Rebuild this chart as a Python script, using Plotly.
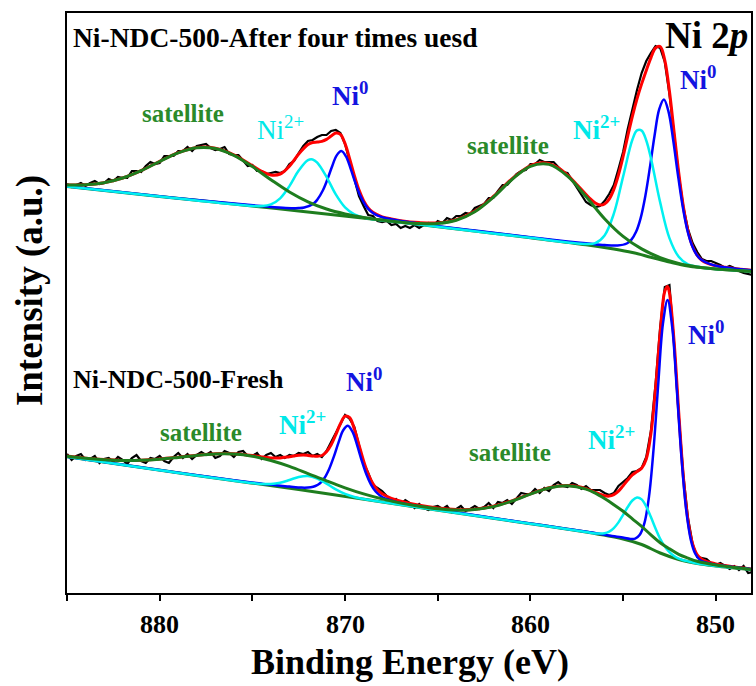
import plotly.graph_objects as go

# ---------------- data (binding energy in eV, intensity in a.u.) ----------------
energy_raw = [885,884.75,884.5,884.25,884,883.75,883.5,883.25,883,882.75,882.5,882.25,882,881.75,881.5,881.25,881,880.75,880.5,880.25,
 880,879.75,879.5,879.25,879,878.75,878.5,878.25,878,877.75,877.5,877.25,877,876.75,876.5,876.25,876,875.75,875.5,875.25,
 875,874.75,874.5,874.25,874,873.75,873.5,873.25,873,872.75,872.5,872.25,872,871.75,871.5,871.25,871,870.75,870.5,870.25,
 870,869.75,869.5,869.25,869,868.75,868.5,868.25,868,867.75,867.5,867.25,867,866.75,866.5,866.25,866,865.75,865.5,865.25,
 865,864.75,864.5,864.25,864,863.75,863.5,863.25,863,862.75,862.5,862.25,862,861.75,861.5,861.25,861,860.75,860.5,860.25,
 860,859.75,859.5,859.25,859,858.75,858.5,858.25,858,857.75,857.5,857.25,857,856.75,856.5,856.25,856,855.75,855.5,855.25,
 855,854.75,854.5,854.25,854,853.75,853.5,853.25,853,852.75,852.5,852.25,852,851.75,851.5,851.25,851,850.75,850.5,850.25,
 850,849.75,849.5,849.25,849,848.75,848.5,848.25,848]

# --- Ni-NDC-500 after four times used (upper spectrum) ---
used_raw = [409,406,408,410,407,410,412,409,410,414, 412,416,415,415,422,422,421,427,431,429,
 430,437,437,437,442,442,446,442,447,448, 449,445,443,444,446,439,438,438,432,427,
 428,422,422,419,420,421,420,422,429,432, 440,447,452,453,456,458,458,462,463,460,
 449,432,414,397,387,378,377,372,371,372, 368,369,365,367,365,368,365,368,370,367,
 372,370,375,373,377,377,380,379,385,387, 389,395,395,402,408,408,414,419,422,423,
 429,429,433,431,431,431,426,421,420,413, 406,398,391,388,386,387,392,399,408,424,
 441,464,485,503,520,532,540,547,545,531, 499,457,418,386,364,350,341,334,332,332,
 330,328,325,327,325,322,320,319,318]

used_env_E = [885,884,883,882,881,880,879,878,877,876,875,874.5,874,873.5,873,872.5,872,871.75,871.5,871.25,871,870.75,870.5,870.25,
 870,869.75,869.5,869.25,869,868.75,868.5,868,867.5,867,866,865,864,863,862,861,860,859.5,859,858.5,858,857.5,857,856.75,856.5,
 856.25,856,855.75,855.5,855.25,855,854.75,854.5,854.25,854,853.75,853.5,853.25,853,852.75,852.5,852.25,852,851.75,851.5,851.25,
 851,850.75,850.5,850.25,850,849.5,849,848.5,848]
used_env = [408.1,408.2,410.3,415.0,422.4,431.7,440.3,445.5,444.8,438.2,427.3,421.7,418.0,419.0,426.9,439.0,448.4,450.5,450.9,451.6,
 453.6,456.9,460.0,458.6,449.4,434.1,417.6,403.1,392.4,385.1,380.7,376.2,374.0,372.3,370.4,370.1,373.4,381.9,396.5,414.1,427.4,
 430.1,429.5,425.2,417.9,408.5,398.5,393.8,390.0,388.0,389.0,393.9,403.6,418.2,436.5,456.9,476.6,494.1,509.1,522.6,535.1,545.0,
 546.5,532.7,501.7,461.1,420.5,386.6,362.0,346.5,337.7,332.8,330.1,328.4,327.2,325.8,324.6,323.5,322.7]

used_bg_E = [885,880,875,872.5,866,860,857,855.5,854.5,853.5,852.5,851.5,850,848]
used_bg = [406.5,396.5,387.0,382.0,368.5,355.2,348.3,344.0,340.5,335.8,331.0,327.0,324.0,321.5]

used_sat_E = [885,884,883,882,881,880,879,878,877,876,875,874,873,872,871,870,869,868,867,866,865,864,863,862,861,860,859,858,857,
 856,855,854,853,852,851,850,849,848]
used_sat = [408.1,408.2,410.3,415.0,422.4,431.5,440.1,445.2,444.5,437.7,426.4,413.3,401.0,391.2,384.0,379.1,375.6,373.0,370.9,369.5,
 369.5,372.7,381.3,395.8,413.4,426.7,428.6,416.9,396.4,374.3,356.6,344.1,335.4,329.6,326.1,324.0,322.8,321.5]

used_ni2_E = [885,880,875,874.5,874,873.5,873,872.5,872,871.75,871.5,871,870.5,870,869.5,869,868.5,868,866,862,860,858,857,856.5,
 856,855.5,855,854.5,854.25,854,853.75,853.5,853,852.5,852,851.5,851,850,849,848]
used_ni2 = [406.5,396.5,387.0,386.9,388.6,394.7,406.9,422.4,432.8,433.5,430.3,416.1,398.6,385.6,378.6,375.4,373.8,372.7,368.5,359.6,
 355.2,350.6,348.9,349.9,357.6,379.3,416.4,453.2,462.6,462.4,452.5,434.9,390.6,354.9,336.3,328.6,326.3,324.0,322.8,321.5]

used_ni0_E = [885,880,876,874.2,873.2,872.5,872.2,871.7,871.5,871.2,870.95,870.7,870.45,870.2,869.95,869.7,869.45,869.2,868.9,868.7,
 868.4,868.2,867.9,867.2,866.2,865.2,863,860,858,857,856,855.3,854.8,854.55,854.3,854.05,853.8,853.55,853.3,853.05,852.8,852.55,
 852.3,852.05,851.8,851.55,851.3,851.05,850.8,850.3,849.8,848.8,848]
used_ni0 = [406.7,396.7,389.4,386.4,385.1,384.9,385.5,389.4,393.2,402.5,413.7,426.5,437.6,441.9,436.6,424.4,410.6,398.3,387.8,383.2,
 378.9,377.2,375.3,372.7,369.9,367.3,362.5,355.7,351.6,349.8,347.9,347.5,349.5,353.4,361.2,375.2,397.1,426.1,457.8,483.8,493.4,
 481.4,453.2,419.3,388.1,364.0,348.2,338.8,333.5,328.8,326.6,324.1,322.7]

# --- Ni-NDC-500 fresh (lower spectrum) ---
fresh_raw = [139,133,137,139,133,134,137,130,134,135, 131,136,133,129,135,138,132,130,135,134,
 137,132,130,136,140,135,139,134,138,141, 138,141,135,137,142,140,136,141,142,137,
 137,140,134,138,140,136,138,135,138,137, 140,139,141,137,139,136,142,151,160,169,
 178,174,166,148,130,120,108,105,102,97, 93,94,89,93,90,85,89,85,83,86,
 87,84,87,81,84,87,82,84,87,84, 86,90,85,91,90,93,89,95,100,99,
 99,104,100,105,102,108,111,107,106,110, 108,104,107,103,103,103,100,98,100,107,
 111,115,121,122,125,136,162,209,266,306, 308,250,178,118,75,49,36,35,34,30,
 28,30,27,24,27,23,27,20,21]

fresh_env_E = [885,884,883,882,881,880,879,878,877,876,875,874.5,874,873.5,873,872.5,872.25,872,871.75,871.5,871.25,871,870.75,870.5,
 870.25,870,869.75,869.5,869.25,869,868.75,868.5,868.25,868,867.5,867,866,865,864,863,862,861,860,859,858.5,858,857.5,857,856.75,
 856.5,856.25,856,855.75,855.5,855.25,855,854.75,854.5,854.25,854,853.75,853.5,853.25,853,852.75,852.6,852.5,852.25,852,851.75,
 851.5,851.25,851,850.75,850.5,850.25,850,849.5,849,848.5,848]
fresh_env = [136.9,134.8,133.4,132.6,132.8,134.0,135.8,137.8,139.3,139.3,137.5,136.1,135.1,135.1,136.3,137.7,138.0,137.6,137.0,136.7,
 137.5,141.2,148.2,158.3,169.3,176.8,175.3,164.1,148.2,132.1,118.9,109.4,103.1,99.2,94.6,91.7,87.7,84.9,83.4,83.8,86.8,92.2,99.1,
 105.3,107.1,107.6,106.7,104.4,102.6,100.7,98.8,97.3,96.9,98.4,101.9,107.3,113.0,118.1,121.4,124.8,134.1,159.2,204.5,260.5,301.8,
 306.4,300.0,251.7,180.9,116.5,72.6,49.0,38.1,33.8,31.6,30.2,29.1,27.5,26.1,24.9,23.8]

fresh_bg_E = [885,878,872.5,866,860.1,857,855,854,853,852,851,850,848]
fresh_bg = [136.2,117.5,103.5,85.5,69.5,61.0,54.0,48.5,40.0,33.5,29.5,27.0,23.3]

fresh_sat_E = [885,884,883,882,881,880,879,878,877,876,875,874,873,872,871,870,869,868,867,866,865,864,863,862,861,860,859,858,857,
 856.5,856,855.5,855,854.5,854,853.5,853,852.5,852,851.5,851,850,849,848]
fresh_sat = [136.8,134.7,133.3,132.5,132.7,133.8,135.6,137.6,139.0,138.9,136.8,132.5,126.6,119.4,112.1,105.2,99.1,94.1,89.9,86.7,
 84.2,82.9,83.4,86.4,91.9,98.8,105.0,107.2,103.9,99.8,94.4,88.3,81.7,74.1,66.6,58.2,50.3,44.2,38.6,34.9,31.7,27.9,25.4,23.4]

fresh_ni2_E = [885,880,875,874.5,874,873.5,873,872.5,872,871.5,871,870.5,870,869.5,869,868,866,860.1,857,856.5,856,855.75,855.5,
 855.25,855,854.75,854.5,854.25,854,853.75,853.5,853.25,853,852.75,852.5,852.25,852,851.75,851.5,851,850,849,848]
fresh_ni2 = [136.2,122.8,109.9,109.1,109.0,110.3,113.0,116.0,117.0,114.5,109.4,103.6,99.1,96.0,94.0,91.0,85.5,69.5,61.0,59.6,59.7,
 61.3,64.9,70.6,78.2,86.0,92.5,95.5,93.6,86.3,75.9,64.5,54.2,46.5,40.9,37.0,34.3,32.8,31.6,29.5,27.0,25.2,23.3]

fresh_ni0_E = [885,880,876,874,873,872.35,871.85,871.6,871.35,871.1,870.85,870.6,870.35,870.1,869.85,869.6,869.35,869.1,868.85,
 868.6,868.35,868.1,867.85,867.35,866.85,865.85,864.85,862,860,858,856.6,855.6,855.1,854.6,854.35,854.1,853.85,853.6,853.35,
 853.1,852.85,852.6,852.35,852.1,851.85,851.6,851.35,851.1,850.85,850.6,850.1,849.6,848.6,848]
fresh_ni0 = [136.3,123.0,112.8,108.2,106.4,105.4,105.7,107.0,109.8,115.3,124.3,136.6,150.7,162.7,167.2,161.3,147.9,132.4,118.7,
 108.4,101.5,97.3,94.6,91.6,89.5,86.1,83.1,75.1,69.5,64.1,60.2,57.0,55.7,54.1,54.4,58.2,69.8,96.8,145.4,210.0,269.4,293.1,
 265.8,202.9,135.3,83.6,53.4,39.0,33.1,30.8,28.5,27.2,24.9,23.7]

x_ticks = [885,880,875,870,865,860,855,850]
x_tick_labels = ['','880','','870','','860','','850']

# ---------------- figure ----------------
FONT = 'Liberation Serif, Times New Roman, serif'
GREEN = '#1E7D1E'; BLUE = '#0000FF'; CYAN = '#00F0F0'
LBL_GREEN = '#2A8A2A'; LBL_BLUE = '#1414E0'; LBL_CYAN = '#00E8E8'

fig = go.Figure()
spectra = [
    (used_raw, used_env_E, used_env, used_bg_E, used_bg, used_ni0_E, used_ni0, used_ni2_E, used_ni2, used_sat_E, used_sat),
    (fresh_raw, fresh_env_E, fresh_env, fresh_bg_E, fresh_bg, fresh_ni0_E, fresh_ni0, fresh_ni2_E, fresh_ni2, fresh_sat_E, fresh_sat),
]
for raw, eE, env, bE, bg, n0E, n0, n2E, n2, sE, sat in spectra:
    fig.add_trace(go.Scatter(x=energy_raw, y=raw, mode='lines', line=dict(color='black', width=2.2)))
    fig.add_trace(go.Scatter(x=eE, y=env, mode='lines', line=dict(color='red', width=3, shape='spline')))
    fig.add_trace(go.Scatter(x=bE, y=bg, mode='lines', line=dict(color=GREEN, width=3, shape='spline')))
    fig.add_trace(go.Scatter(x=n0E, y=n0, mode='lines', line=dict(color=BLUE, width=2.5, shape='spline')))
    fig.add_trace(go.Scatter(x=n2E, y=n2, mode='lines', line=dict(color=CYAN, width=2.5, shape='spline')))
    fig.add_trace(go.Scatter(x=sE, y=sat, mode='lines', line=dict(color=GREEN, width=3, shape='spline')))

# plot area: x 67..753 px, y 13..593 px
def px2E(px): return 885 - (px - 67) / 18.59
def py2v(py): return 593 - py
def pxpaper(px): return (px - 67) / 686
def pypaper(py): return (593 - py) / 580
ann = []
def lab(text, px, py, size, color, xanchor='center'):
    ann.append(dict(text=text, x=px2E(px), y=py2v(py), xref='x', yref='y', showarrow=False,
                    xanchor=xanchor, yanchor='middle', font=dict(family=FONT, size=size, color=color)))

lab('<b>Ni-NDC-500-After four times uesd</b>', 71, 37, 27.5, 'black', 'left')
lab('<b>Ni 2<i>p</i></b>', 708, 35, 37, 'black')
lab('<b>satellite</b>', 183, 113, 25, LBL_GREEN)
lab('Ni<sup>2+</sup>', 281, 128, 27, LBL_CYAN)
lab('<b>Ni<sup>0</sup></b>', 351, 94, 27, LBL_BLUE)
lab('<b>satellite</b>', 509, 145, 25, LBL_GREEN)
lab('<b>Ni<sup>2+</sup></b>', 598, 128, 27, LBL_CYAN)
lab('<b>Ni<sup>0</sup></b>', 700, 78, 27, LBL_BLUE)
lab('<b>Ni-NDC-500-Fresh</b>', 71, 379, 26, 'black', 'left')
lab('<b>Ni<sup>0</sup></b>', 365, 380, 27, LBL_BLUE)
lab('<b>Ni<sup>2+</sup></b>', 303, 423, 27, LBL_CYAN)
lab('<b>satellite</b>', 201.5, 432, 25, LBL_GREEN)
lab('<b>satellite</b>', 511, 452, 25, LBL_GREEN)
lab('<b>Ni<sup>2+</sup></b>', 613, 438, 27, LBL_CYAN)
lab('<b>Ni<sup>0</sup></b>', 708, 333, 27, LBL_BLUE)

# tick labels (drawn as text so that their distance to the axis matches)
for tv, tt in zip(x_ticks, x_tick_labels):
    if tt:
        ann.append(dict(text='<b>' + tt + '</b>', x=tv, y=pypaper(624), xref='x', yref='paper', showarrow=False,
                        font=dict(family=FONT, size=26, color='black'), xanchor='center', yanchor='middle'))

ann.append(dict(text='<b>Binding Energy (eV)</b>', x=pxpaper(411), y=pypaper(662), xref='paper', yref='paper', showarrow=False,
                font=dict(family=FONT, size=36, color='black'), xanchor='center', yanchor='middle'))
ann.append(dict(text='<b>Intensity (a.u.)</b>', x=pxpaper(30), y=pypaper(291), xref='paper', yref='paper', showarrow=False,
                textangle=-90, font=dict(family=FONT, size=37, color='black'), xanchor='center', yanchor='middle'))

fig.update_layout(width=756, height=686, margin=dict(l=67, r=3, t=13, b=93), plot_bgcolor='white',
                  paper_bgcolor='white', showlegend=False, annotations=ann)
fig.update_xaxes(range=[885, 848.1], showline=True, linewidth=2, linecolor='black', mirror=True, ticks='outside',
                 ticklen=6, tickwidth=2, tickcolor='black', tickvals=x_ticks, showticklabels=False,
                 showgrid=False, zeroline=False)
fig.update_yaxes(range=[0, 580], showline=True, linewidth=2, linecolor='black', mirror=True, ticks='',
                 showticklabels=False, showgrid=False, zeroline=False)
fig.write_html('out.html')
